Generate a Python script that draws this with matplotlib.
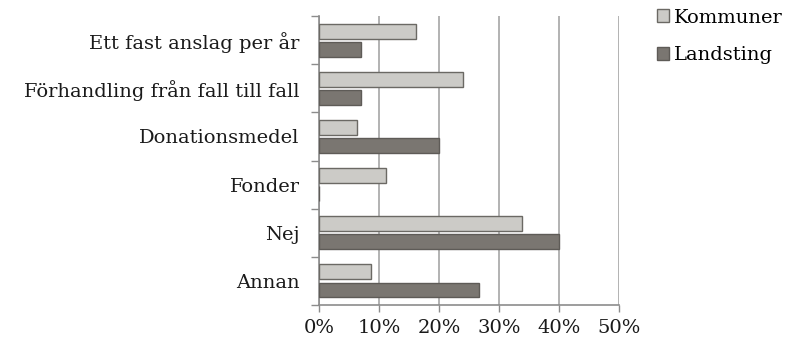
import numpy as np
import matplotlib
matplotlib.use('Agg')
import matplotlib.pyplot as plt
from matplotlib.ticker import PercentFormatter

plt.rcParams['font.family'] = ['DejaVu Serif']

categories = ['Ett fast anslag per år', 'Förhandling från fall till fall',
              'Donationsmedel', 'Fonder', 'Nej', 'Annan']
kommuner = [16.2, 23.9, 6.3, 11.2, 33.8, 8.7]
landsting = [6.9, 6.9, 20.0, 0.0, 40.0, 26.7]
xticks = [0, 10, 20, 30, 40, 50]

fig = plt.figure(figsize=(7.9, 3.43), dpi=100)
ax = fig.add_axes([0.404, 0.111, 0.380, 0.842])

y = np.arange(len(categories))
h = 0.31
off = 0.19
ax.barh(y - off, kommuner, height=h, color='#cccbc7', edgecolor='#6b6964',
        linewidth=1.0, label='Kommuner', zorder=3)
ax.barh(y + off, landsting, height=h, color='#7a7671', edgecolor='#5e5b57',
        linewidth=1.0, label='Landsting', zorder=3)

ax.set_ylim(len(categories) - 0.5, -0.5)
ax.set_xlim(0, 50)
ax.set_yticks(y)
ax.set_yticklabels(categories, fontsize=14, color='#1a1a1a')
ax.set_yticks(np.arange(-0.5, len(categories)), minor=True)
ax.tick_params(axis='y', which='major', length=0, pad=14)
ax.tick_params(axis='y', which='minor', length=6, color='#8c8c8c', width=1)
ax.set_xticks(xticks)
ax.xaxis.set_major_formatter(PercentFormatter(decimals=0))
ax.tick_params(axis='x', length=5, color='#8c8c8c', width=1, labelsize=14,
               labelcolor='#1a1a1a', pad=5)

ax.grid(axis='x', color='#a6a6a6', linewidth=1.2, zorder=0)
for s in ['top', 'right']:
    ax.spines[s].set_visible(False)
for s in ['left', 'bottom']:
    ax.spines[s].set_color('#8c8c8c')
    ax.spines[s].set_linewidth(1.2)

ax.legend(loc='upper left', bbox_to_anchor=(0.829, 0.98), bbox_transform=fig.transFigure,
          frameon=False, fontsize=14, handlelength=0.65, handleheight=0.65,
          handletextpad=0.25, labelspacing=1.0, borderaxespad=0, borderpad=0.1)

fig.savefig('out.png', dpi=100)
